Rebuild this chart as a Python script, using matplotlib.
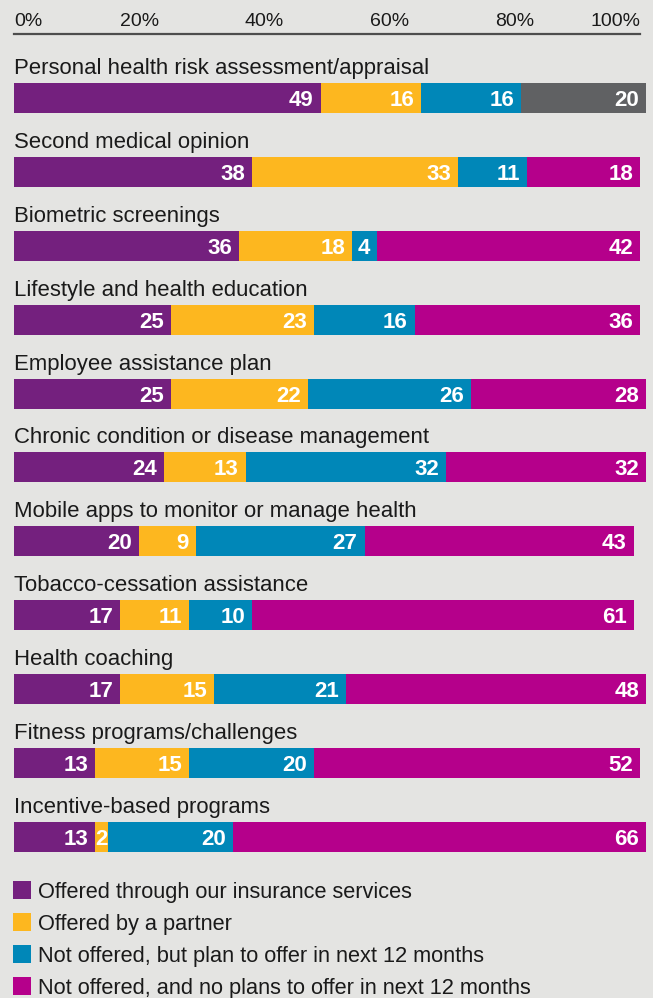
import matplotlib.pyplot as plt
from matplotlib.patches import Rectangle

# survey: health services offered by insurers (% of respondents)
categories = [
    "Personal health risk assessment/appraisal",
    "Second medical opinion",
    "Biometric screenings",
    "Lifestyle and health education",
    "Employee assistance plan",
    "Chronic condition or disease management",
    "Mobile apps to monitor or manage health",
    "Tobacco-cessation assistance",
    "Health coaching",
    "Fitness programs/challenges",
    "Incentive-based programs",
]
offered_insurance = [49, 38, 36, 25, 25, 24, 20, 17, 17, 13, 13]
offered_partner = [16, 33, 18, 23, 22, 13, 9, 11, 15, 15, 2]
plan_to_offer = [16, 11, 4, 16, 26, 32, 27, 10, 21, 20, 20]
no_plans = [20, 18, 42, 36, 28, 32, 43, 61, 48, 52, 66]

series_names = [
    "Offered through our insurance services",
    "Offered by a partner",
    "Not offered, but plan to offer in next 12 months",
    "Not offered, and no plans to offer in next 12 months",
]
tick_values = [0, 20, 40, 60, 80, 100]
tick_labels = ["0%", "20%", "40%", "60%", "80%", "100%"]

colors = ["#74207e", "#fdb71f", "#0087b8", "#b5008b"]
gray = "#606163"
bg = "#e4e4e2"
txt = "#1a1a1a"

W, H = 653, 998
X0, X1 = 14, 640          # pixel span of 0..100%
AXIS_Y = 34
px_per_unit = (X1 - X0) / 100.0

plt.rcParams['font.family'] = ['Liberation Sans', 'DejaVu Sans']

fig = plt.figure(figsize=(W / 100, H / 100), dpi=100)
fig.patch.set_facecolor(bg)
ax = fig.add_axes([X0 / W, 0, (X1 - X0) / W, (H - AXIS_Y) / H])
ax.set_facecolor(bg)
ax.set_xlim(0, 100)
ax.set_ylim(H, AXIS_Y)

# axis line and percent labels along the top
for s in ["left", "right", "bottom"]:
    ax.spines[s].set_visible(False)
ax.spines["top"].set_color("#4d4d4d")
ax.spines["top"].set_linewidth(1.6)
ax.xaxis.tick_top()
ax.set_xticks(tick_values)
ax.set_xticklabels(tick_labels, fontsize=14, color=txt)
ax.tick_params(axis="x", length=0, pad=3)
ax.set_yticks([])
lbls = ax.get_xticklabels()
lbls[0].set_ha("left")
lbls[-1].set_ha("right")

series = [offered_insurance, offered_partner, plan_to_offer, no_plans]
first_center = 98
step = 73.9
bar_h = 30

for i, cat in enumerate(categories):
    yc = first_center + i * step
    ax.text(0, yc - bar_h / 2 - 9, cat, fontsize=15.9, color=txt,
            ha="left", va="baseline")
    left = 0
    for j, vals in enumerate(series):
        v = vals[i]
        c = colors[j]
        if i == 0 and j == 3:
            c = gray
        ax.barh(yc, v, left=left, height=bar_h, color=c, clip_on=False,
                linewidth=0)
        right = left + v
        if v < 3:
            ax.text(left + v / 2, yc, str(v), color="white", fontsize=16,
                    fontweight="bold", ha="center", va="center_baseline",
                    clip_on=False)
        else:
            ax.text(right - 7 / px_per_unit, yc, str(v), color="white",
                    fontsize=16, fontweight="bold", ha="right",
                    va="center_baseline", clip_on=False)
        left = right

# legend
leg_y0 = 890
leg_step = 32
sq = 18
for j, name in enumerate(series_names):
    y = leg_y0 + j * leg_step
    ax.add_patch(Rectangle(((13 - X0) / px_per_unit, y - sq / 2),
                           sq / px_per_unit, sq, color=colors[j],
                           clip_on=False, linewidth=0))
    ax.text((38 - X0) / px_per_unit, y, name, fontsize=15.7, color=txt,
            ha="left", va="center_baseline", clip_on=False)

fig.savefig("out.png", dpi=100, facecolor=bg)
